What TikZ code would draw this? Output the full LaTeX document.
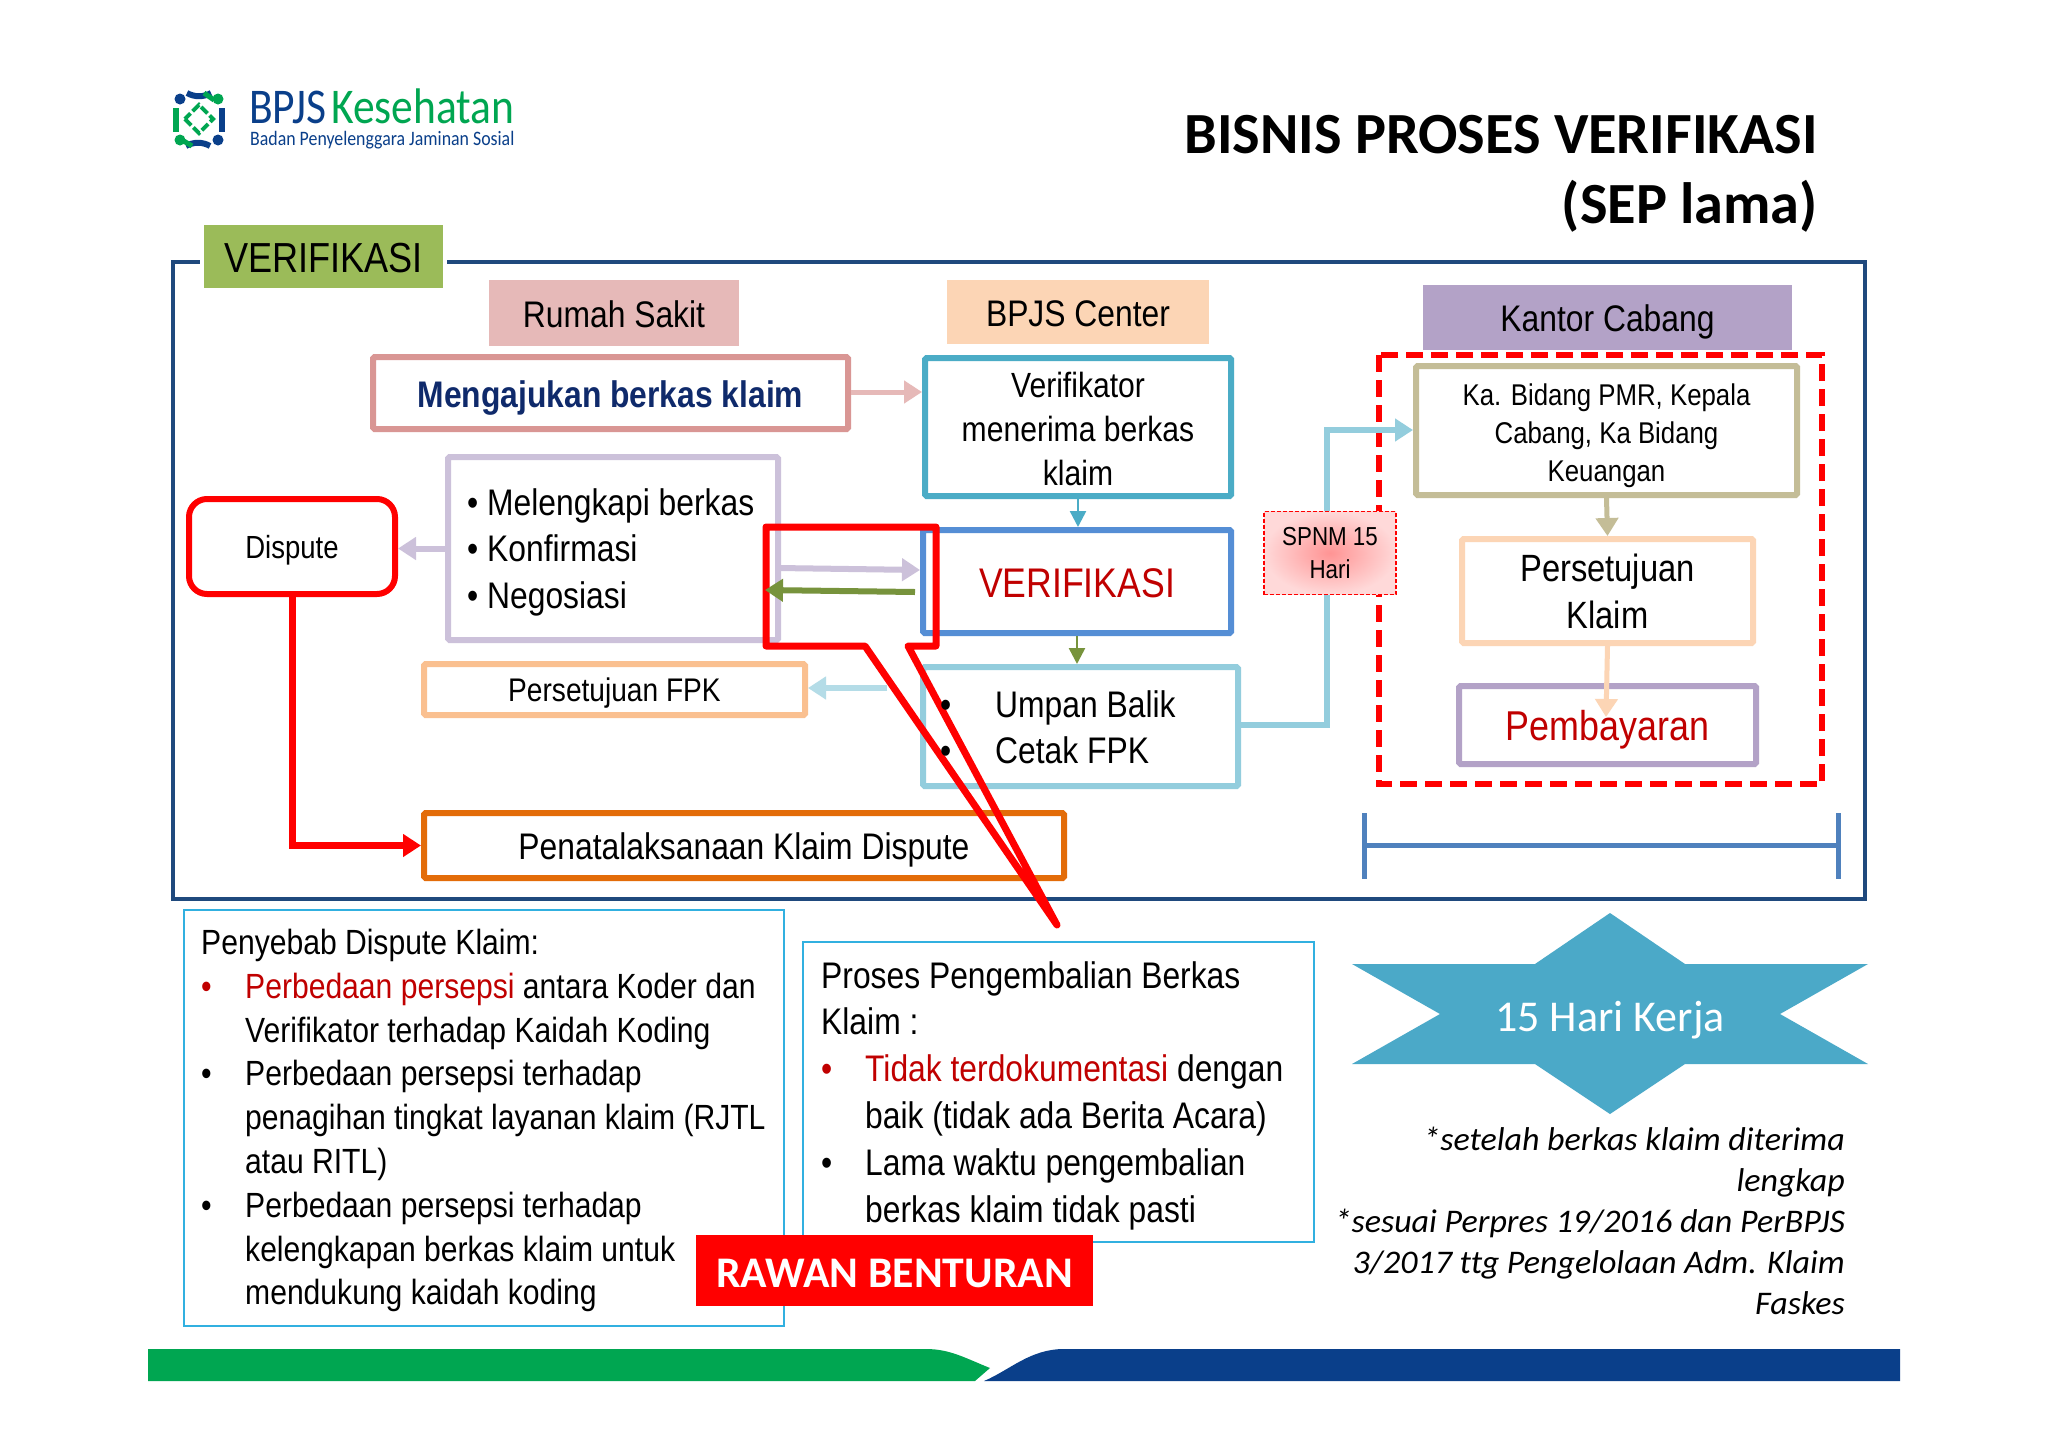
\documentclass[tikz,border=0pt]{standalone}
\usepackage{fontspec}
\usetikzlibrary{arrows.meta,calc,shadings}
\setmainfont[FakeStretch=0.86]{Liberation Sans}
\newfontfamily\carl{Carlito}
\newfontfamily\carlc[FakeStretch=0.87]{Carlito}
\newfontfamily\ital[FakeStretch=1.03,Ligatures=NoCommon]{Carlito}
\newcommand{\fs}[2]{\fontsize{#1}{#2}\selectfont}
\newcommand{\bul}[1][black]{\makebox[44pt][l]{\textcolor{#1}{•}}}
\newcommand{\ind}{\makebox[44pt]{}}
\newcommand{\lbl}[1]{\raisebox{-0.38em}[0pt][0pt]{#1}}
\definecolor{frameblue}{HTML}{1F497D}
\definecolor{vgreen}{HTML}{9BBB59}
\definecolor{rsfill}{HTML}{E6B9B8}
\definecolor{peach}{HTML}{FCD5B5}
\definecolor{lilac}{HTML}{B3A2C7}
\definecolor{rose}{HTML}{D99694}
\definecolor{teal1}{HTML}{4BACC6}
\definecolor{lav}{HTML}{CCC1DA}
\definecolor{blue1}{HTML}{558ED5}
\definecolor{orange1}{HTML}{FAC090}
\definecolor{aqua}{HTML}{93CDDD}
\definecolor{orange2}{HTML}{E36C09}
\definecolor{khaki}{HTML}{C4BD97}
\definecolor{olive1}{HTML}{77933C}
\definecolor{sky}{HTML}{31B0E0}
\definecolor{dred}{HTML}{C00000}
\definecolor{bar1}{HTML}{4F81BD}
\definecolor{fgreen}{HTML}{00A651}
\definecolor{fblue}{HTML}{0A3F8A}
\definecolor{star}{HTML}{4BA9C8}
\definecolor{navy1}{HTML}{0F2A6B}
\tikzset{
  box/.style={draw,line width=6pt,rounded corners=1.5pt,fill=white,align=center,inner sep=0pt,text=black},
  head/.style={inner sep=0pt,align=center,text=black},
  note/.style={draw=sky,line width=2pt,inner sep=0pt},
  txt/.style={inner sep=0pt,align=left,anchor=north west},
  conn/.style={line width=#1,line join=miter},
  tip/.style={-{Triangle[length=18pt,width=22pt]}},
  smalltip/.style={-{Triangle[length=16pt,width=16pt]}},
}
\newcommand{\rbox}[7]{%
  \node[#6,minimum width={(#4-#2)*1pt},minimum height={(#5-#3)*1pt}] (#1) at ({(#2+#4)/2},{(#3+#5)/2}) {#7};}
\begin{document}
\begin{tikzpicture}[x=1pt,y=-1pt]
\useasboundingbox (0,0) rectangle (2048,1448);
\fill[white] (0,0) rectangle (2048,1448);

% logo
\begin{scope}
\draw[line width=6pt,fblue] (187,93) arc (120:60:24);
\draw[line width=6pt,fblue] (222,108) -- (222,132);
\draw[line width=6pt,fgreen] (176,108) -- (176,132);
\draw[line width=6pt,fblue] (186,146) arc (240:300:24);
\draw[line width=5pt,fgreen] (204,93) -- (214,100);
\draw[line width=5pt,fgreen] (192,146) -- (182,140);
\fill[fblue] (180,99) circle (5.5);
\fill[fgreen] (218,99) circle (5.5);
\fill[fgreen] (180,140) circle (5.5);
\fill[fblue] (218,140) circle (5.5);
\draw[fgreen,line width=4pt,dash pattern=on 9pt off 3pt,rotate around={45:(199,119)}] (189,109) rectangle (209,129);
\end{scope}
\node[inner sep=0pt,anchor=base west] (logoa) at (249,123) {\carlc\fs{50}{50}\textcolor{fblue}{BPJS}};
\node[inner sep=0pt,anchor=base west] (logob) at (331,123) {\carlc\fs{50}{50}\textcolor{fgreen}{Kesehatan}};
\node[inner sep=0pt,anchor=base west] (logoc) at (250,145) {\carlc\fs{20.5}{21}\textcolor{fblue}{Badan Penyelenggara Jaminan Sosial}};

% title
\node[inner sep=0pt,align=right,anchor=base east] (title1) at (1818,153) {\carl\bfseries\fs{58.3}{58}BISNIS PROSES VERIFIKASI};
\node[inner sep=0pt,align=right,anchor=base east] (title2) at (1818,223) {\carl\bfseries\fs{58.3}{58}(SEP lama)};

% frame
\draw[frameblue,line width=4pt] (173,262) rectangle (1865,899);
\rbox{vlabel}{204}{225}{443}{288}{head,fill=white,outer sep=0pt,draw=white,line width=8pt}{}
\rbox{vlabelb}{204}{225}{443}{288}{head,fill=vgreen}{\fs{42}{42}\lbl{VERIFIKASI}}

% headers
\rbox{hrs}{489}{280}{739}{346}{head,fill=rsfill}{\fs{37}{37}\lbl{Rumah Sakit}}
\rbox{hbc}{947}{280}{1209}{344}{head,fill=peach}{\fs{37}{37}\lbl{BPJS Center}}
\rbox{hkc}{1423}{285}{1792}{350}{head,fill=lilac}{\fs{37}{37}\lbl{Kantor Cabang}}

% dashed frame
\draw[red,line width=5.5pt,dash pattern=on 17pt off 8pt] (1379,355) rectangle (1822,784);

% connector bends
\coordinate (turn1) at (1327,725);
\coordinate (turn2) at (1327,430);

% boxes
\rbox{aju}{373}{357}{848}{429}{box,draw=rose}{\fs{37}{37}\bfseries\textcolor{navy1}{\lbl{Mengajukan berkas klaim}}}
\rbox{vmb}{925}{358}{1231}{496}{box,draw=teal1,font=\fs{35}{44}}{\rule{0pt}{30pt}Verifikator\\menerima berkas\\klaim}
\rbox{mel}{448}{457}{778}{640}{box,draw=lav}{}
\rbox{dis}{189}{499}{395}{594}{box,draw=red,rounded corners=18pt}{\fs{32}{32}\lbl{Dispute}}
\rbox{ver}{923}{530}{1231}{633}{box,draw=blue1}{\fs{41.4}{43}\textcolor{dred}{\lbl{VERIFIKASI}}}
\rbox{fpk}{424}{664}{805}{715}{box,draw=orange1}{\fs{32.7}{33}\lbl{Persetujuan FPK}}
\rbox{umb}{923}{667}{1238}{786}{box,draw=aqua}{}
\rbox{pen}{424}{813}{1064}{878}{box,draw=orange2}{\fs{37}{37}\lbl{Penatalaksanaan Klaim Dispute}}
\rbox{kab}{1416}{366}{1797}{495}{box,draw=khaki,font=\fs{30}{38}}{\rule{0pt}{32pt}Ka. Bidang PMR, Kepala\\Cabang, Ka Bidang\\Keuangan}
\rbox{stj}{1462}{539}{1753}{643}{box,draw=peach,font=\fs{38}{47}}{Persetujuan\\Klaim}
\rbox{bay}{1459}{686}{1756}{764}{box,draw=lilac}{\fs{41.7}{43}\textcolor{dred}{\lbl{Pembayaran}}}

% connectors
\draw[rsfill,conn=5pt,tip] (aju.east |- 0,392) -- (vmb.west |- 0,392);
\draw[teal1,conn=2.5pt,smalltip] (vmb.south -| 1078,0) -- (ver.north -| 1078,0);
\draw[olive1,conn=2.5pt,smalltip] (ver.south -| 1077,0) -- (umb.north -| 1077,0);
\draw[lav,conn=6pt,tip] (mel.west) -- (dis.east |- mel.west);
\draw[red,conn=7pt,tip] (dis.south) |- (pen.west);
\draw[aqua,conn=6pt,tip] (umb.east |- turn1) -- (turn1) -- (turn2) -- (kab.west |- turn2);
\draw[khaki,conn=5pt,tip] (kab.south) -- (stj.north);
\coordinate (peachend) at (1606,717);
\draw[peach,conn=5pt,tip] (stj.south) -- (peachend);

% SPNM box
\node[draw=red,dashed,dash pattern=on 4pt off 2pt,line width=1.5pt,inner sep=0pt,minimum width=132pt,minimum height=83pt,align=center,inner color=red!42!white,outer color=red!15!white,font=\fs{26}{33}] (spnm) at (1330,553) {SPNM 15\\Hari};

% bracket
\coordinate (brl) at (1364,845);
\coordinate (brr) at (1838,845);
\draw[bar1,line width=5pt] (brl) -- (brr);
\draw[bar1,line width=5pt] (1364,813) -- (1364,879);
\draw[bar1,line width=5pt] (1838,813) -- (1838,879);

% callout
\coordinate (ca) at (766,527);
\coordinate (cb) at (936,527);
\coordinate (cc) at (936,646);
\coordinate (cd) at (908,646);
\coordinate (ce) at (1057,925);
\coordinate (cf) at (865,646);
\coordinate (cg) at (766,646);
\draw[red,line width=7pt,line join=round] (ca) -- (cb) -- (cc) -- (cd) -- (ce) -- (cf) -- (cg) -- cycle;

% arrows over the callout
\coordinate (lavs) at (778,568);
\coordinate (grns) at (915,592);
\draw[lav,conn=6pt,tip] (lavs) -- (ver.west |- 0,570);
\draw[olive1,conn=6pt,tip] (grns) -- (765,590);
\draw[aqua!70!white,conn=6pt,tip] (887,688) -- (fpk.east |- 0,688);

% list texts
\node[txt,font=\fs{37}{46.8}] (meltext) at (467,488) {\makebox[20pt][l]{•}Melengkapi berkas\\\makebox[20pt][l]{•}Konfirmasi\\\makebox[20pt][l]{•}Negosiasi};
\node[txt,font=\fs{37}{46.5}] (umbtext) at (940,690) {\makebox[55pt][l]{•}Umpan Balik\\\makebox[55pt][l]{•}Cetak FPK};

% note boxes
\rbox{noteL}{184}{910}{784}{1326}{note,fill=white}{}
\rbox{noteM}{803}{942}{1314}{1242}{note,fill=white}{}
\node[txt,font=\fs{35}{43.8}] (noteLt) at (201,929) {Penyebab Dispute Klaim:\\
\bul[dred]\textcolor{dred}{Perbedaan persepsi} antara Koder dan\\
\ind Verifikator terhadap Kaidah Koding\\
\bul Perbedaan persepsi terhadap\\
\ind penagihan tingkat layanan klaim (RJTL\\
\ind atau RITL)\\
\bul Perbedaan persepsi terhadap\\
\ind kelengkapan berkas klaim untuk\\
\ind mendukung kaidah koding};
\node[txt,font=\fs{37}{46.8}] (noteMt) at (821,961) {Proses Pengembalian Berkas\\
Klaim :\\
\bul[dred]\textcolor{dred}{Tidak terdokumentasi} dengan\\
\ind baik (tidak ada Berita Acara)\\
\bul Lama waktu pengembalian\\
\ind berkas klaim tidak pasti};
\rbox{rawan}{696}{1235}{1093}{1306}{head,fill=red}{\carl\bfseries\fs{43.7}{41}\textcolor{white}{\lbl{RAWAN BENTURAN}}}

% star
\fill[star] (1610,913) -- (1685,964) -- (1868,964) -- (1780,1014) -- (1868,1064) -- (1685,1064) -- (1610,1114) -- (1535,1064) -- (1352,1064) -- (1440,1014) -- (1352,964) -- (1535,964) -- cycle;
\node[inner sep=0pt] (hari) at (1610,1015) {\carl\fs{44}{44}\textcolor{white}{\lbl{15 Hari Kerja}}};

% notes
\node[inner sep=0pt,align=right,anchor=north east,font=\ital\itshape\fs{33}{41}] (foot) at (1845,1127) {*setelah berkas klaim diterima\\lengkap\\*sesuai Perpres 19/2016 dan PerBPJS\\3/2017 ttg Pengelolaan Adm. Klaim\\Faskes};

% footer
\fill[fgreen] (148,1349) -- (926,1349) .. controls (950,1349) and (965,1358) .. (990,1368) -- (975,1381) -- (148,1381) -- cycle;
\fill[fblue] (1900,1349) -- (1064,1349) .. controls (1030,1349) and (1010,1370) .. (984,1381) -- (1900,1381) -- cycle;
\end{tikzpicture}
\end{document}
